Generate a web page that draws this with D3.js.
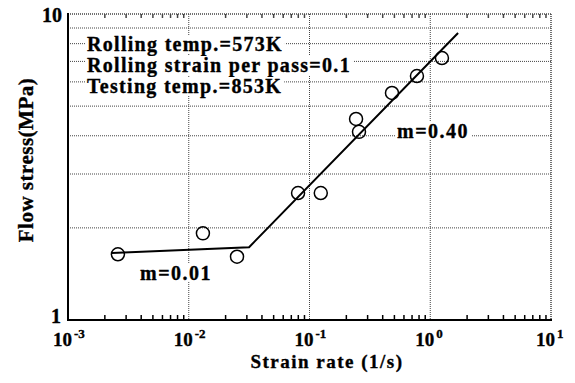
<!DOCTYPE html>
<html>
<head>
<meta charset="utf-8">
<script src="https://cdn.jsdelivr.net/npm/d3@7"></script>
<style>
  body { margin: 0; background: #fff; }
  text { font-family: "Liberation Serif", "Times New Roman", serif; font-weight: bold; fill: #000; stroke: #000; stroke-width: 0.35px; }
</style>
</head>
<body>
<div id="chart"></div>
<script>
// measured points (strain rate 1/s, flow stress MPa)
let strainRate = [0.00259, 0.0131, 0.0251, 0.0804, 0.124, 0.243, 0.257, 0.482, 0.776, 1.25];
let flowStress = [1.64, 1.92, 1.61, 2.60, 2.60, 4.54, 4.12, 5.52, 6.27, 7.18];

// fitted lines
let fitRate = [0.00231, 0.0316, 1.70];
let fitStress = [1.655, 1.73, 8.67];

let xDecades = [-3, -2, -1, 0, 1];
let yGrid = [2, 3, 4, 5, 6, 7, 8, 9];
let notes = ["Rolling temp.=573K", "Rolling strain per pass=0.1", "Testing temp.=853K"];

let width = 575;
let height = 383;
let plotLeft = 68, plotRight = 551, plotTop = 14, plotBottom = 320;

let svg = d3.select("#chart")
    .append("svg")
    .attr("width", width)
    .attr("height", height);

let xScale = d3.scaleLog().domain([1e-3, 10]).range([plotLeft, plotRight]);
let yScale = d3.scaleLog().domain([1, 10]).range([plotBottom, plotTop]);

// minor tick values 2..9 in each decade
let minor = [];
xDecades.slice(0, -1).forEach(e => {
    for (let k = 2; k <= 9; k++) minor.push(k * Math.pow(10, e));
});

let dotted = "#444";

// horizontal grid
svg.append("g").selectAll("line")
    .data(yGrid)
    .enter()
    .append("line")
    .attr("x1", plotLeft).attr("x2", plotRight)
    .attr("y1", d => yScale(d)).attr("y2", d => yScale(d))
    .attr("stroke", dotted)
    .attr("stroke-width", 1)
    .attr("stroke-dasharray", "1,1");

// vertical grid at decades
svg.append("g").selectAll("line")
    .data(xDecades.slice(1, -1).map(e => Math.pow(10, e)))
    .enter()
    .append("line")
    .attr("x1", d => xScale(d)).attr("x2", d => xScale(d))
    .attr("y1", plotTop).attr("y2", plotBottom)
    .attr("stroke", dotted)
    .attr("stroke-width", 1)
    .attr("stroke-dasharray", "1,1");

// top and right frame (dotted)
svg.append("line")
    .attr("x1", plotLeft).attr("x2", plotRight).attr("y1", plotTop).attr("y2", plotTop)
    .attr("stroke", dotted).attr("stroke-width", 1.5).attr("stroke-dasharray", "1,1");
svg.append("line")
    .attr("x1", plotRight).attr("x2", plotRight).attr("y1", plotTop).attr("y2", plotBottom)
    .attr("stroke", dotted).attr("stroke-width", 1.5).attr("stroke-dasharray", "1,1");

// bottom axis, minor ticks inward
let xAxis = d3.axisTop(xScale)
    .tickValues(minor)
    .tickSize(5)
    .tickFormat("");

svg.append("g")
    .attr("transform", "translate(0," + plotBottom + ")")
    .call(xAxis)
    .call(g => g.select(".domain").remove())
    .selectAll("line").attr("stroke-width", 1.5);

svg.append("line")
    .attr("x1", plotLeft).attr("x2", plotRight + 1).attr("y1", plotBottom).attr("y2", plotBottom)
    .attr("stroke", "#000").attr("stroke-width", 2);

// top minor ticks pointing down
svg.append("g")
    .attr("transform", "translate(0," + plotTop + ")")
    .call(d3.axisBottom(xScale).tickValues(minor).tickSize(4).tickFormat(""))
    .call(g => g.select(".domain").remove())
    .selectAll("line").attr("stroke", dotted).attr("stroke-width", 1.5);

// left axis
svg.append("line")
    .attr("x1", plotLeft).attr("x2", plotLeft).attr("y1", plotTop - 1).attr("y2", plotBottom + 1)
    .attr("stroke", "#000").attr("stroke-width", 2);

// x tick labels 10^n (base and exponent as separate texts)
let xLab = svg.append("g").selectAll("g")
    .data(xDecades)
    .enter()
    .append("g")
    .attr("transform", d => "translate(" + xScale(Math.pow(10, d)) + ",0)");
xLab.append("text")
    .attr("x", 4)
    .attr("y", plotBottom + 26)
    .attr("text-anchor", "end")
    .style("font-size", "19px")
    .text("10");
xLab.append("text")
    .attr("x", 6)
    .attr("y", plotBottom + 18)
    .style("font-size", "13px")
    .text(d => d < 0 ? "-" + Math.abs(d) : String(d));

// y tick labels
svg.append("text")
    .attr("x", plotLeft - 6).attr("y", yScale(10) + 8)
    .attr("text-anchor", "end")
    .style("font-size", "20px")
    .text("10");
svg.append("text")
    .attr("x", plotLeft - 7).attr("y", yScale(1) + 3)
    .attr("text-anchor", "end")
    .style("font-size", "20px")
    .text("1");

// axis titles
svg.append("text")
    .attr("x", 327).attr("y", 368)
    .attr("text-anchor", "middle")
    .style("font-size", "19px")
    .style("letter-spacing", "1.5px")
    .text("Strain rate (1/s)");

svg.append("text")
    .attr("transform", "translate(33,160) rotate(-90)")
    .attr("text-anchor", "middle")
    .style("font-size", "21px")
    .style("letter-spacing", "0.5px")
    .text("Flow stress(MPa)");

// text with white box behind it
function label(x, y, txt, size, spacing) {
    let g = svg.append("g");
    let t = g.append("text")
        .attr("x", x).attr("y", y)
        .style("font-size", size + "px")
        .style("letter-spacing", spacing + "px")
        .text(txt);
    let b = t.node().getBBox();
    g.insert("rect", "text")
        .attr("x", b.x - 2).attr("y", b.y + 2)
        .attr("width", b.width + 4).attr("height", b.height - 4)
        .attr("fill", "#fff");
}

notes.forEach((n, i) => label(87, 51 + i * 21, n, 20, 1.3));
label(397, 138, "m=0.40", 20, 1.5);
label(140, 280, "m=0.01", 20, 1.5);

// fitted line
let line = d3.line()
    .x((d, i) => xScale(fitRate[i]))
    .y((d, i) => yScale(fitStress[i]));

svg.append("path")
    .attr("d", line(fitRate))
    .attr("fill", "none")
    .attr("stroke", "#000")
    .attr("stroke-width", 2);

// data points
svg.selectAll("circle")
    .data(strainRate)
    .enter()
    .append("circle")
    .attr("cx", d => xScale(d))
    .attr("cy", (d, i) => yScale(flowStress[i]))
    .attr("r", 6.5)
    .attr("fill", "none")
    .attr("stroke", "#000")
    .attr("stroke-width", 1.5);
</script>
</body>
</html>
